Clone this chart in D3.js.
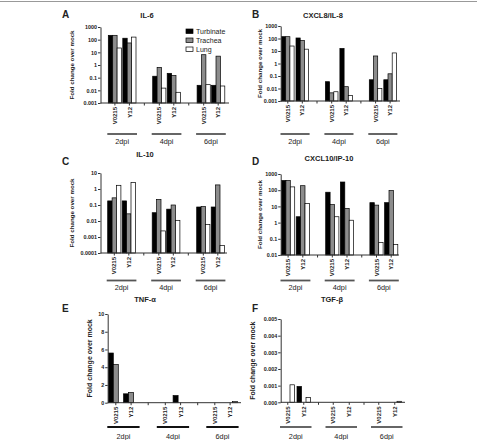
<!DOCTYPE html>
<html>
<head>
<meta charset="utf-8">
<script src="https://cdn.jsdelivr.net/npm/d3@7"></script>
<style>
  body { margin: 0; background: #fff; }
  text { font-family: "Liberation Sans", Arial, sans-serif; fill: #222; -webkit-font-smoothing: antialiased; }
</style>
</head>
<body>
<svg id="chart" width="477" height="440"></svg>
<script>
// categories
const dpis = ["2dpi", "4dpi", "6dpi"];
const samples = ["V0215", "Y12"];
const tissues = ["Turbinate", "Trachea", "Lung"];
const tissueColors = ["#000", "#8c8c8c", "#fff"];

// values: 2dpi V0215, 2dpi Y12, 4dpi V0215, 4dpi Y12, 6dpi V0215, 6dpi Y12
const il6Turbinate = [220, 130, 0.13, 0.22, 0.025, 0.025];
const il6Trachea = [220, 55, 0.65, 0.15, 6.5, 5];
const il6Lung = [22, 160, 0.015, 0.007, 0.028, 0.022];
const il6Ticks = [0.001, 0.01, 0.1, 1, 10, 100, 1000];

const il8Turbinate = [140, 110, 0.035, 16, 0.05, 0.05];
const il8Trachea = [140, 70, 0.0045, 0.014, 4, 0.15];
const il8Lung = [25, 14, 0.0055, 0.0027, 0.01, 7];
const il8Ticks = [0.001, 0.01, 0.1, 1, 10, 100, 1000];

const il10Turbinate = [0.18, 0.18, 0.033, 0.055, 0.075, 0.075];
const il10Trachea = [0.28, 0.028, 0.22, 0.1, 0.08, 1.8];
const il10Lung = [1.7, 2.6, 0.0024, 0.011, 0.006, 0.0003];
const il10Ticks = [0.0001, 0.001, 0.01, 0.1, 1, 10];

const ip10Turbinate = [400, 2.3, 75, 320, 17, 17];
const ip10Trachea = [400, 190, 13, 7.5, 12, 95];
const ip10Lung = [160, 15, 2.3, 1.4, 0.06, 0.045];
const ip10Ticks = [0.01, 0.1, 1, 10, 100, 1000];

const tnfTurbinate = [5.6, 1.0, 0, 0.8, 0, 0];
const tnfTrachea = [4.3, 1.15, 0, 0, 0, 0];
const tnfLung = [0, 0, 0, 0, 0, 0.15];
const tnfTicks = [0, 2, 4, 6, 8, 10];

const tgfTurbinate = [0, 0.00095, 0, 0, 0, 0];
const tgfTrachea = [0, 0, 0, 0, 0, 0];
const tgfLung = [0.00105, 0.00028, 0, 0, 0, 0.00006];
const tgfTicks = [0, 0.001, 0.002, 0.003, 0.004, 0.005];

const svg = d3.select("#chart");
svg.append("rect").attr("width", 477).attr("height", 440).attr("fill", "#fff");
svg.append("line").attr("x1", 0).attr("x2", 477).attr("y1", 1.5).attr("y2", 1.5)
   .attr("stroke", "#999").attr("stroke-width", 1.2);

const panels = [
  {letter: "A", title: "IL-6", series: [il6Turbinate, il6Trachea, il6Lung], ticks: il6Ticks, log: true,
   ax: [100.5, 229], top: 27, bottom: 103, first: 108.3, bw: 4.4, sStep: 14.5, dStep: 44.4,
   letterXY: [62, 18], titleXY: [147, 18], ylabX: 74, ylabSize: 6.2, lineY: 134, dpiY: 143.5, lineColor: "#555", legend: true},
  {letter: "B", title: "CXCL8/IL-8", series: [il8Turbinate, il8Trachea, il8Lung], ticks: il8Ticks, log: true,
   ax: [280.7, 400], top: 26, bottom: 101, first: 281.5, bw: 4.2, sStep: 14.5, dStep: 43.9,
   letterXY: [252, 18], titleXY: [323, 18], ylabX: 262, ylabSize: 6.2, lineY: 134, dpiY: 143.5, lineColor: "#555"},
  {letter: "C", title: "IL-10", series: [il10Turbinate, il10Trachea, il10Lung], ticks: il10Ticks, log: true,
   ax: [100.5, 227], top: 173, bottom: 253, first: 107.7, bw: 4.4, sStep: 14.5, dStep: 44.5,
   letterXY: [62, 165], titleXY: [145, 157], ylabX: 74, ylabSize: 6.2, lineY: 280.5, dpiY: 289.5, lineColor: "#555"},
  {letter: "D", title: "CXCL10/IP-10", series: [ip10Turbinate, ip10Trachea, ip10Lung], ticks: ip10Ticks, log: true,
   ax: [280.7, 399], top: 174, bottom: 255, first: 281.5, bw: 4.4, sStep: 14.7, dStep: 44.2,
   letterXY: [252, 165], titleXY: [329, 161], ylabX: 262, ylabSize: 6.2, lineY: 280.5, dpiY: 289.5, lineColor: "#555"},
  {letter: "E", title: "TNF-α", series: [tnfTurbinate, tnfTrachea, tnfLung], ticks: tnfTicks, log: false,
   ax: [107.7, 241], top: 314, bottom: 402.7, first: 108.3, bw: 5, sStep: 15.3, dStep: 49.5,
   letterXY: [62, 312], titleXY: [145, 302], ylabX: 92, ylabSize: 7, lineY: 427, dpiY: 438.5, lineColor: "#111"},
  {letter: "F", title: "TGF-β", series: [tgfTurbinate, tgfTrachea, tgfLung], ticks: tgfTicks, log: false,
   ax: [280.7, 405], top: 319, bottom: 402.3, first: 281, bw: 4.5, sStep: 16, dStep: 45.5,
   letterXY: [252, 312], titleXY: [332, 302], ylabX: 255, ylabSize: 7, lineY: 427, dpiY: 438.5, lineColor: "#555", fmt: d3.format(".3f")}
];

panels.forEach(p => drawPanel(p));

function drawPanel(p) {
  const g = svg.append("g");
  const groupW = p.sStep + 3 * p.bw;

  // scales
  const xDpi = d3.scaleBand().domain(dpis)
    .range([p.first, p.first + 2 * p.dStep + groupW])
    .paddingInner(1 - groupW / p.dStep).paddingOuter(0);
  const xSample = d3.scaleBand().domain(samples)
    .range([0, groupW]).paddingInner(1 - 3 * p.bw / p.sStep).paddingOuter(0);
  const xTissue = d3.scaleBand().domain(tissues).range([0, 3 * p.bw]);

  const y = p.log
    ? d3.scaleLog().domain([p.ticks[0], p.ticks[p.ticks.length - 1]]).range([p.bottom, p.top])
    : d3.scaleLinear().domain([p.ticks[0], p.ticks[p.ticks.length - 1]]).range([p.bottom, p.top]);

  // bars
  const rows = [];
  dpis.forEach((d, di) => samples.forEach((s, si) => tissues.forEach((t, ti) => {
    const v = p.series[ti][di * 2 + si];
    if (v > 0) rows.push({d, s, t, ti, v});
  })));

  g.selectAll("rect.bar").data(rows).enter().append("rect")
    .attr("class", "bar")
    .attr("x", r => xDpi(r.d) + xSample(r.s) + xTissue(r.t))
    .attr("width", xTissue.bandwidth())
    .attr("y", r => y(r.v))
    .attr("height", r => Math.max(0.8, p.bottom - y(r.v)))
    .attr("fill", r => tissueColors[r.ti])
    .attr("stroke", "#000")
    .attr("stroke-width", 0.7);

  // y axis
  const fmt = p.fmt || (v => String(v));
  const yAxis = g.append("g")
    .attr("transform", `translate(${p.ax[0]},0)`)
    .call(d3.axisLeft(y).tickValues(p.ticks).tickFormat(fmt).tickSize(2.5).tickSizeOuter(0).tickPadding(1));
  yAxis.select(".domain").attr("stroke", "#333");
  yAxis.selectAll(".tick line").attr("stroke", "#333");
  yAxis.selectAll(".tick text").attr("font-size", 5.4).attr("font-weight", "bold")
    .style("font-family", '"Liberation Sans", Arial, sans-serif').attr("fill", "#222");

  // x axis line
  g.append("line").attr("x1", p.ax[0]).attr("x2", p.ax[1])
    .attr("y1", p.bottom).attr("y2", p.bottom).attr("stroke", "#333").attr("stroke-width", 1);

  // sample ticks and labels
  dpis.forEach((d, di) => {
    samples.forEach(s => {
      const cx = xDpi(d) + xSample(s) + xSample.bandwidth() / 2;
      g.append("line").attr("x1", cx).attr("x2", cx).attr("y1", p.bottom).attr("y2", p.bottom + 2.5)
        .attr("stroke", "#333");
      g.append("text")
        .attr("transform", `translate(${cx},${p.bottom + 4}) rotate(-90)`)
        .attr("text-anchor", "end").attr("dy", "0.35em")
        .attr("font-size", 6).attr("font-weight", "bold")
        .text(s);
    });
    // break tick between groups
    if (di < dpis.length - 1) {
      const bx = xDpi(d) + groupW + (p.dStep - groupW) / 2;
      g.append("line").attr("x1", bx).attr("x2", bx).attr("y1", p.bottom).attr("y2", p.bottom + 2.5)
        .attr("stroke", "#333");
    }
    // dpi underline and label
    g.append("line").attr("x1", xDpi(d) - 1).attr("x2", xDpi(d) + groupW + 1)
      .attr("y1", p.lineY).attr("y2", p.lineY)
      .attr("stroke", p.lineColor).attr("stroke-width", 1.8);
    g.append("text").attr("x", xDpi(d) + groupW / 2).attr("y", p.dpiY)
      .attr("text-anchor", "middle").attr("font-size", 7.3).attr("fill", "#333").text(d);
  });

  // titles
  g.append("text").attr("x", p.letterXY[0]).attr("y", p.letterXY[1])
    .attr("font-size", 10).attr("font-weight", "bold").attr("fill", "#000").text(p.letter);
  g.append("text").attr("x", p.titleXY[0]).attr("y", p.titleXY[1])
    .attr("text-anchor", "middle").attr("font-size", 7.5).attr("font-weight", "bold").text(p.title);
  g.append("text")
    .attr("transform", `translate(${p.ylabX},${(p.top + p.bottom) / 2}) rotate(-90)`)
    .attr("text-anchor", "middle").attr("font-size", p.ylabSize).attr("font-weight", "bold")
    .text("Fold change over mock");

  if (p.legend) {
    const lg = g.append("g").attr("transform", "translate(186,29)");
    tissues.forEach((t, i) => {
      lg.append("rect").attr("x", 0).attr("y", i * 9).attr("width", 7).attr("height", 4.5)
        .attr("fill", tissueColors[i]).attr("stroke", "#000").attr("stroke-width", 0.7);
      lg.append("text").attr("x", 10).attr("y", i * 9 + 2.2).attr("dy", "0.35em")
        .attr("font-size", 7).text(t);
    });
  }
}
</script>
</body>
</html>
